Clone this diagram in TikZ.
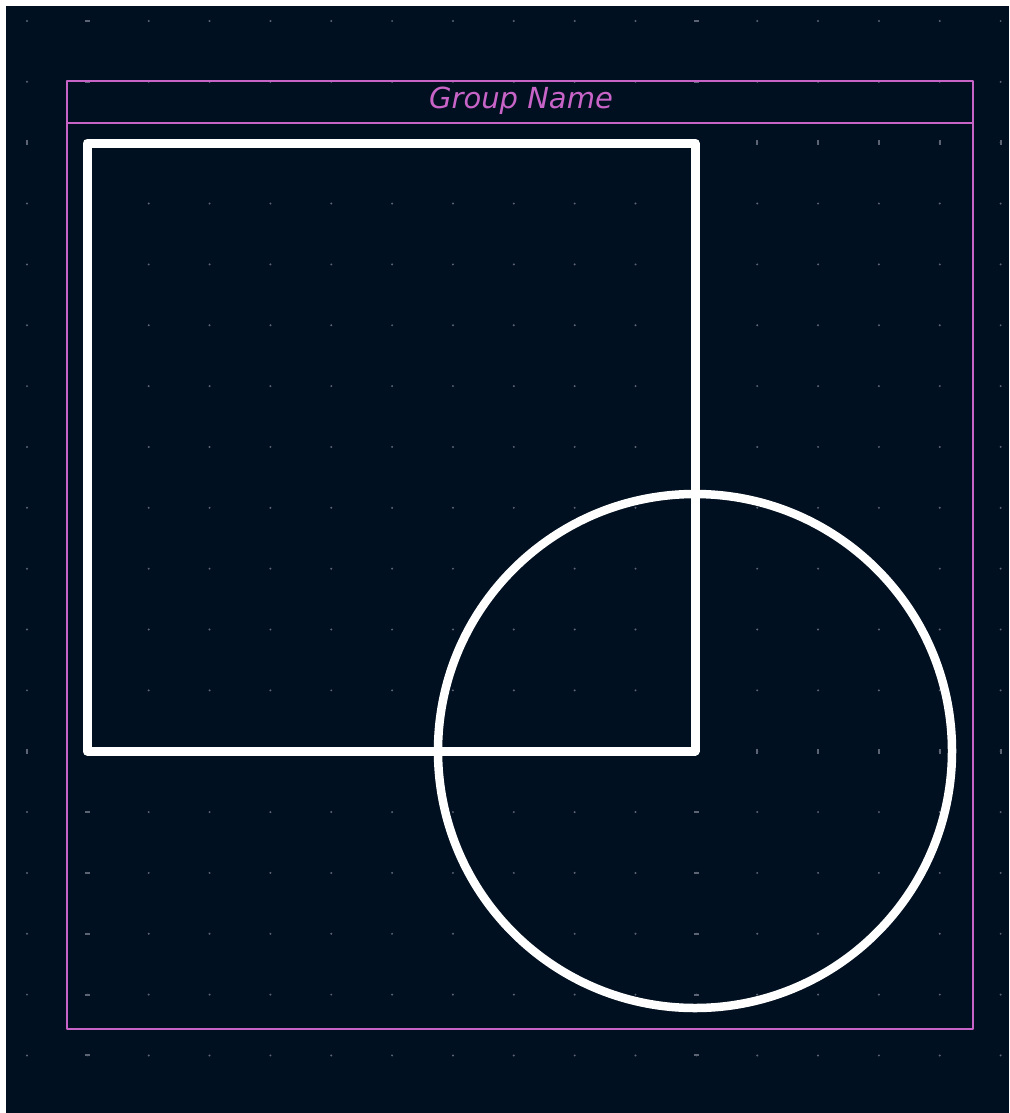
\documentclass[tikz,border=0pt]{standalone}
\usepackage{fontspec}
\newfontfamily\groupfont{DejaVu Sans}
\usepackage{tikz}
\usetikzlibrary{positioning}

\definecolor{canvasbg}{HTML}{011020}
\definecolor{griddot}{HTML}{5C6474}
\definecolor{groupline}{HTML}{C864C8}

\begin{document}
\begin{tikzpicture}[x=1pt,y=-1pt, line cap=round, line join=round]
\useasboundingbox (0,0) rectangle (1009,1113);
% canvas
\fill[white] (0,0) rectangle (1009,1113);
\fill[canvasbg] (6,6) rectangle (1009,1113);

% grid dots
\foreach \i in {0,...,16} {
  \foreach \j in {0,...,17} {
    \fill[griddot] (27+60.85*\i,21+60.85*\j) circle (1.1);
  }
}
% heavier marks on two columns and two rows
\foreach \j in {0,...,17} {
  \foreach \x in {87.85,696.35} {
    \fill[griddot] (\x-2.6,20+60.85*\j) rectangle (\x+2.6,22+60.85*\j);
  }
}
\foreach \i in {0,...,16} {
  \foreach \y in {142.7,751.2} {
    \fill[griddot] (26+60.85*\i,\y-2.6) rectangle (28+60.85*\i,\y+2.6);
  }
}

% group frame
\draw[groupline, line width=2] (67,81) rectangle (973,1029);
\draw[groupline, line width=2] (67,123) -- (973,123);
\node[text=groupline, anchor=base, inner sep=0pt,
      font=\groupfont\itshape\fontsize{29}{29}\selectfont] (grouplabel) at (521,109) {Group Name};

% square
\draw[white, line width=9] (87,143) rectangle (695,751);

% circle
\draw[white, line width=8.5] (695,751) circle (257);
\end{tikzpicture}
\end{document}
